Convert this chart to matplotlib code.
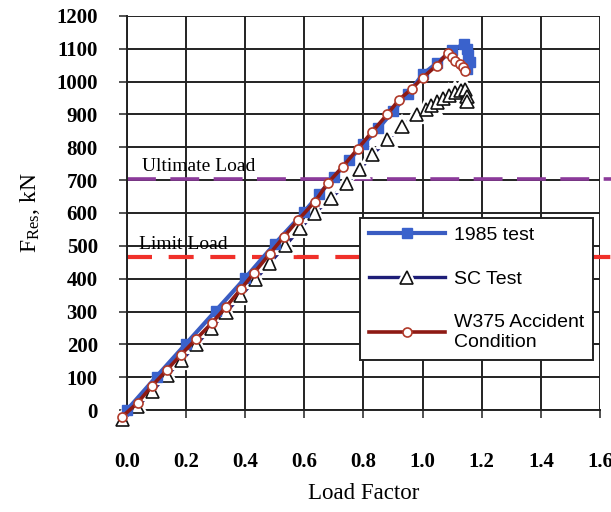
import matplotlib
matplotlib.use("Agg")
import matplotlib.pyplot as plt
import matplotlib.patheffects as pe

# ---- data ----
lf_1985 = [0.0, 0.1, 0.2, 0.3, 0.4, 0.5, 0.6, 0.65, 0.7, 0.75, 0.8, 0.85, 0.9, 0.95, 1.0, 1.05, 1.1, 1.14, 1.15, 1.155, 1.16, 1.15]
f_1985 = [0, 102, 202, 302, 402, 506, 604, 657, 710, 760, 810, 858, 910, 962, 1022, 1058, 1095, 1115, 1100, 1080, 1060, 1040]

lf_sc = [-0.015, 0.035, 0.085, 0.135, 0.185, 0.235, 0.285, 0.335, 0.385, 0.435, 0.483, 0.535, 0.585, 0.635,
         0.69, 0.743, 0.787, 0.83, 0.88, 0.93, 0.98, 1.013, 1.03, 1.05, 1.07, 1.09, 1.11, 1.13, 1.145, 1.15, 1.15]
f_sc = [-30, 10, 58, 105, 152, 200, 250, 298, 348, 398, 448, 500, 552, 600,
        645, 690, 732, 777, 823, 863, 900, 915, 928, 938, 948, 958, 966, 972, 976, 955, 940]

lf_w375 = [-0.017, 0.036, 0.084, 0.135, 0.182, 0.233, 0.287, 0.335, 0.385, 0.43, 0.483, 0.53, 0.58, 0.635,
           0.68, 0.73, 0.78, 0.83, 0.88, 0.92, 0.963, 1.0, 1.047, 1.085, 1.098, 1.111, 1.125, 1.135, 1.145]
f_w375 = [-21, 22, 73, 122, 168, 215, 265, 314, 368, 418, 476, 527, 580, 634,
          692, 741, 795, 848, 900, 945, 978, 1012, 1049, 1088, 1076, 1064, 1055, 1046, 1034]

ultimate_load = 703
limit_load = 467

x_ticks = [0.0, 0.2, 0.4, 0.6, 0.8, 1.0, 1.2, 1.4, 1.6]
y_ticks = list(range(0, 1201, 100))

plt.rcParams['mathtext.fontset'] = 'custom'
plt.rcParams['mathtext.rm'] = 'Liberation Serif'
plt.rcParams['mathtext.it'] = 'Liberation Serif:italic'

fig = plt.figure(figsize=(6.11, 5.12), dpi=100)
ax = fig.add_axes([127/611, 1-410/512, 473/611, 394/512])
ax.set_xlim(0, 1.6)
ax.set_ylim(0, 1200)

ax.set_xticks(x_ticks)
ax.set_yticks(y_ticks)
ax.set_xticklabels([f"{v:.1f}" for v in x_ticks])
ax.set_yticklabels([str(v) for v in y_ticks])
for lab in ax.get_xticklabels() + ax.get_yticklabels():
    lab.set_fontfamily('Liberation Serif')
    lab.set_fontweight('bold')
    lab.set_fontsize(15)
ax.tick_params(axis='both', direction='out', length=6, width=1.2, color='#333333')
ax.tick_params(axis='x', pad=24)
ax.tick_params(axis='y', pad=15)

ax.grid(True, color='#222222', linewidth=1.4)
ax.set_axisbelow(True)
for s in ['top', 'right']:
    ax.spines[s].set_visible(False)
for s in ['left', 'bottom']:
    ax.spines[s].set_color('#222222')
    ax.spines[s].set_linewidth(1.4)

# reference lines
ax.plot([0, 1.66], [ultimate_load, ultimate_load], color='#8B3A9A', lw=2.6,
        dashes=(8, 4), clip_on=False, zorder=2)
ax.plot([0, 1.66], [limit_load, limit_load], color='#F0302A', lw=3.0,
        dashes=(6, 4), clip_on=False, zorder=2)
ax.text(0.05, ultimate_load + 12, 'Ultimate Load', fontfamily='Liberation Serif',
        fontsize=14, ha='left', va='bottom', zorder=2)
ax.text(0.04, limit_load + 12, 'Limit Load', fontfamily='Liberation Serif',
        fontsize=14, ha='left', va='bottom', zorder=2)

h1, = ax.plot(lf_1985, f_1985, color='#3A5CC2', lw=3, marker='s', ms=7,
              mfc='#3A62CC', mec='#3A62CC', clip_on=False, zorder=5, label='1985 test')
h2, = ax.plot(lf_sc, f_sc, color='#1E1E78', lw=2.4, marker='^', ms=9.5,
              mfc='white', mec='#111111', mew=1.2, clip_on=False, zorder=4, label='SC Test',
              path_effects=[pe.Stroke(linewidth=4.5, foreground='white'), pe.Normal()])
h3, = ax.plot(lf_w375, f_w375, color='#8E1A14', lw=2.6, marker='o', ms=6.5,
              mfc='white', mec='#B03A2A', mew=1.2, clip_on=False, zorder=6,
              label='W375 Accident\nCondition')

leg = ax.legend(handles=[h1, h2, h3], loc='upper left', bbox_to_anchor=(0.493, 0.488),
                prop={'family': 'Liberation Sans', 'size': 14}, frameon=True,
                fancybox=False, edgecolor='#222222', framealpha=1, numpoints=1,
                handlelength=3.9, labelspacing=1.35, borderpad=0.45, handletextpad=0.45,
                borderaxespad=0)
leg.get_frame().set_linewidth(1.4)
leg.set_zorder(10)

ax.set_xlabel('Load Factor', fontfamily='Liberation Serif', fontsize=16.5, labelpad=8)
ax.set_ylabel(r'F$_{\mathrm{Res}}$, kN', fontfamily='Liberation Serif', fontsize=17, labelpad=10)

fig.savefig('out.png', dpi=100)
